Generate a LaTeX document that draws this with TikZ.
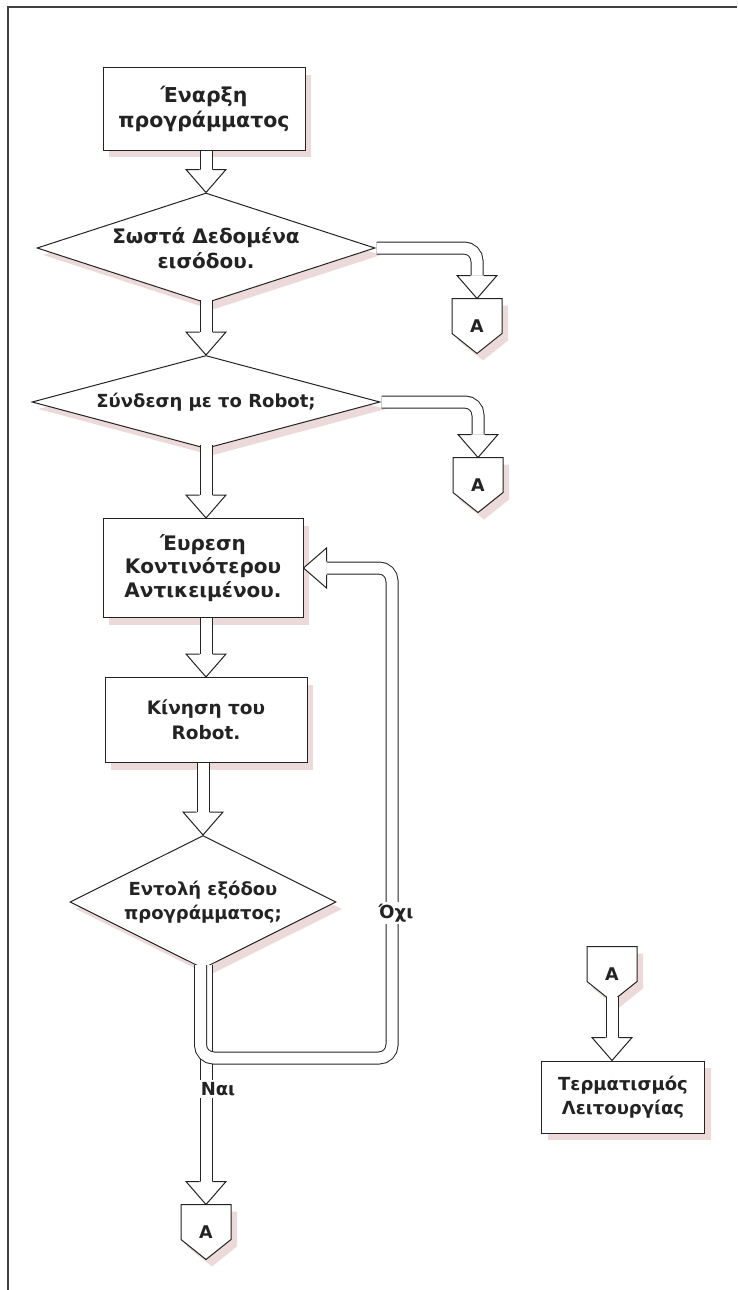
\documentclass[tikz,border=0pt]{standalone}
\usepackage{fontspec}
\setmainfont{DejaVu Sans}
\usetikzlibrary{shapes.geometric,calc,shadows}
\definecolor{shadowc}{RGB}{236,218,218}
\definecolor{ln}{RGB}{35,35,35}
\pgfdeclarelayer{bg}
\pgfsetlayers{bg,main}
\tikzset{
  lbl/.style={font=\fontsize{18}{24}\selectfont\bfseries, align=center, text=ln},
  shad/.style={drop shadow={shadow xshift=6pt, shadow yshift=-7pt, fill=shadowc, opacity=1}},
  boxst/.style={lbl, shad, draw=ln, line width=1pt, fill=white, rectangle, inner sep=0pt},
  dia/.style={lbl, shad, draw=ln, line width=1pt, fill=white, diamond, inner sep=0pt},
  pipe/.style={draw=ln, line width=1pt, double=white, double distance=11pt, rounded corners=13pt},
  headst/.style={draw=ln, line width=1pt, line join=miter, fill=white},
  connA/.style={font=\fontsize{17.5}{17.5}\selectfont\bfseries, text=ln, minimum width=50pt, minimum height=55pt, inner sep=0pt, outer sep=0pt},
  tag/.style={lbl, fill=white, inner sep=2pt},
}
\newcommand\headdown[1]{%
  \filldraw[headst] ($(#1)+(-6.5,-23)$) -- ($(#1)+(-20,-23)$) -- (#1) -- ($(#1)+(20,-23)$) -- ($(#1)+(6.5,-23)$);}
\newcommand\varrow[2]{%
  \draw[pipe] (#1) -- ($(#2)+(0,-23)$);
  \headdown{#2}}
\newcommand\pentdraw[1]{%
  \fill[shadowc, transform canvas={shift={(6pt,-7pt)}}] (#1.north west) -- (#1.north east) -- ($(#1.east)+(0,7.5)$) -- (#1.south) -- ($(#1.west)+(0,7.5)$) -- cycle;
  \filldraw[fill=white, draw=ln, line width=1pt, line join=miter] (#1.north west) -- (#1.north east) -- ($(#1.east)+(0,7.5)$) -- (#1.south) -- ($(#1.west)+(0,7.5)$) -- cycle;}
\begin{document}
\begin{tikzpicture}[x=1pt,y=-1pt]
\useasboundingbox (0,0) rectangle (737,1290);
\draw[line width=1.8pt, black!75] (737,7) -- (8,7) -- (8,1290);

% nodes
\node[boxst, font=\fontsize{20.5}{25}\selectfont\bfseries, minimum width=202pt, minimum height=82pt] (b1) at (204,109) {Έναρξη\\προγράμματος};
\node[dia, font=\fontsize{20}{25}\selectfont\bfseries, minimum width=338pt, minimum height=110pt, aspect=3.07] (d1) at (206,248) {Σωστά Δεδομένα\\εισόδου.};
\node[dia, minimum width=348pt, minimum height=93pt, aspect=3.7] (d2) at (206,402) {Σύνδεση με το Robot;};
\node[boxst, font=\fontsize{20}{23.5}\selectfont\bfseries, minimum width=200pt, minimum height=99pt] (b2) at (203,568) {Έυρεση\\Κοντινότερου\\Αντικειμένου.};
\node[boxst, font=\fontsize{18.5}{25}\selectfont\bfseries, minimum width=202pt, minimum height=85pt] (b3) at (206,720) {Κίνηση του\\Robot.};
\node[dia, minimum width=266pt, minimum height=133pt, aspect=2] (d3) at (203,902) {Εντολή εξόδου\\προγράμματος;};
\node[boxst, minimum width=163pt, minimum height=72pt] (b4) at (623,1097) {Τερματισμός\\Λειτουργίας};

\node[connA] (cA1) at (477,326) {A};
\node[connA] (cA2) at (478,485) {A};
\node[connA] (cA3) at (206,1232) {A};
\node[connA] (cA4) at (612,974) {A};
\begin{pgfonlayer}{bg}
  \pentdraw{cA1}
  \pentdraw{cA2}
  \pentdraw{cA3}
  \pentdraw{cA4}
\end{pgfonlayer}

% main column arrows
\coordinate (s1) at (b1.south -| d1.north);
\varrow{s1}{d1.north}
\coordinate (s2) at ($(d1.south)+(0,-4)$);
\coordinate (t2) at (s2 |- d2.north);
\varrow{s2}{t2}
\coordinate (s3) at ($(d2.south)+(0,-4)$);
\coordinate (t3) at (s3 |- b2.north);
\varrow{s3}{t3}
\coordinate (s4) at (b2.south -| b3.north);
\varrow{s4}{b3.north}
\coordinate (s5) at (b3.south -| d3.north);
\varrow{s5}{d3.north}

% side branches to connectors
\coordinate (e1) at ($(cA1.north)+(0,-23)$);
\draw[pipe] ($(d1.east)+(1,0)$) -- (d1.east -| cA1.north) -- (e1);
\headdown{cA1.north}
\coordinate (e2) at ($(cA2.north)+(0,-23)$);
\draw[pipe] ($(d2.east)+(1,0)$) -- (d2.east -| cA2.north) -- (e2);
\headdown{cA2.north}

% connector A to end box
\coordinate (s6) at ($(cA4.south)+(0,-5)$);
\coordinate (t6) at (cA4.south |- b4.north);
\varrow{s6}{t6}

% Yes path
\coordinate (n0) at (cA3.north |- d3.south);
\coordinate (n1) at ($(n0)+(0,-4)$);
\varrow{n1}{cA3.north}

% No loop
\coordinate (o1) at ($(d3.south)+(-2.5,-4)$);
\coordinate (lowY) at (0,1058);
\coordinate (o2) at (o1 |- lowY);
\coordinate (o3) at (392,1058);
\coordinate (o4) at (o3 |- b2.east);
\coordinate (o5) at ($(b2.east)+(23,0)$);
\draw[pipe] (o1) -- (o2) -- (o3) -- (o4) -- (o5);
\filldraw[headst] ($(b2.east)+(23,-6.5)$) -- ($(b2.east)+(23,-20)$) -- (b2.east) -- ($(b2.east)+(23,20)$) -- ($(b2.east)+(23,6.5)$);

\node[tag] (nai) at (218,1089) {Ναι};
\node[tag] (oxi) at (396,913) {Όχι};
\end{tikzpicture}
\end{document}
